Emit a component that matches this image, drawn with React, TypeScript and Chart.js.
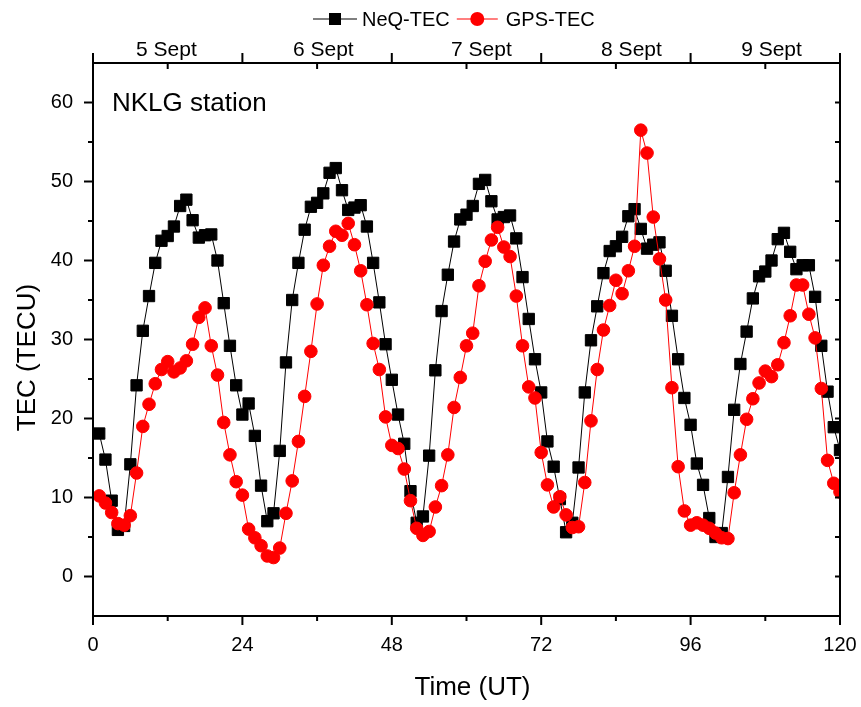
import React, { useEffect, useRef } from 'react';
import { Chart, registerables } from 'chart.js';

Chart.register(...registerables);

// ---- data (hourly values, hour 1 .. 120) ----
const neqTec = [
  18.1, 14.8, 9.6, 5.9, 6.4, 14.2, 24.2, 31.1, 35.5, 39.7,
  42.5, 43.1, 44.3, 46.9, 47.7, 45.1, 42.9, 43.2, 43.3, 40.0,
  34.6, 29.2, 24.2, 20.5, 21.9, 17.8, 11.5, 7.0, 8.0, 15.9,
  27.1, 35.0, 39.7, 43.9, 46.8, 47.3, 48.5, 51.1, 51.7, 48.9,
  46.4, 46.7, 47.0, 44.3, 39.7, 34.7, 29.4, 24.9, 20.5, 16.8,
  10.8, 6.8, 7.6, 15.3, 26.1, 33.6, 38.2, 42.4, 45.2, 45.8,
  46.9, 49.7, 50.2, 47.5, 45.2, 45.5, 45.7, 42.8, 37.9, 32.6,
  27.5, 23.3, 17.1, 13.9, 9.8, 5.6, 6.8, 13.8, 23.3, 29.9,
  34.2, 38.4, 41.2, 41.8, 43.0, 45.6, 46.5, 44.0, 41.5, 42.0,
  42.3, 38.7, 33.0, 27.5, 22.6, 19.2, 14.3, 11.6, 7.4, 5.0,
  5.5, 12.6, 21.1, 26.9, 31.0, 35.2, 38.0, 38.6, 40.0, 42.7,
  43.5, 41.1, 38.9, 39.4, 39.4, 35.4, 29.2, 23.4, 18.9, 16.0,
];

const gpsTec = [
  10.2, 9.3, 8.1, 6.7, 6.5, 7.7, 13.1, 19.0, 21.8, 24.4,
  26.2, 27.2, 25.9, 26.4, 27.3, 29.4, 32.8, 34.0, 29.2, 25.5,
  19.5, 15.4, 12.0, 10.3, 6.0, 4.9, 3.9, 2.6, 2.4, 3.6,
  8.0, 12.1, 17.1, 22.8, 28.5, 34.5, 39.4, 41.8, 43.7, 43.2,
  44.7, 42.0, 38.7, 34.4, 29.5, 26.2, 20.2, 16.6, 16.2, 13.6,
  9.6, 6.1, 5.2, 5.7, 8.8, 11.5, 15.4, 21.4, 25.2, 29.2,
  30.8, 36.8, 39.9, 42.6, 44.2, 41.7, 40.5, 35.5, 29.2, 24.0,
  22.6, 15.7, 11.6, 8.8, 10.1, 7.8, 6.2, 6.3, 11.9, 19.7,
  26.2, 31.2, 34.3, 37.5, 35.8, 38.7, 41.8, 56.5, 53.6, 45.5,
  40.2, 35.0, 23.9, 13.9, 8.3, 6.5, 6.8, 6.5, 6.1, 5.5,
  4.9, 4.8, 10.6, 15.4, 19.9, 22.5, 24.5, 26.0, 25.3, 26.8,
  29.6, 33.0, 36.9, 36.9, 33.2, 30.2, 23.8, 14.7, 11.8, 10.7,
];

const seriesNames = ['NeQ-TEC', 'GPS-TEC'];
const xTickValues = [0, 24, 48, 72, 96, 120];
const xMinorValues = [12, 36, 60, 84, 108];
const yTickValues = [0, 10, 20, 30, 40, 50, 60];
const yMinorValues = [5, 15, 25, 35, 45, 55];
const dayTickValues = [12, 36, 60, 84, 108];
const dayLabelHours = [11.8, 37, 62.4, 86.5, 109];
const dayLabels = ['5 Sept', '6 Sept', '7 Sept', '8 Sept', '9 Sept'];
const stationLabel = 'NKLG station';
const xTitle = 'Time (UT)';
const yTitle = 'TEC (TECU)';

const FONT = '"Liberation Sans", Arial, Helvetica, sans-serif';

const toPoints = (arr: number[]) => arr.map((v, i) => ({ x: i + 1, y: v }));

const overlayPlugin = {
  id: 'overlay',
  afterDraw(chart: any) {
    const { ctx, chartArea: ca, scales } = chart;
    const x = scales.x;
    const y = scales.y;
    ctx.save();
    ctx.strokeStyle = '#000';
    ctx.fillStyle = '#000';

    const seg = (x1: number, y1: number, x2: number, y2: number, w: number) => {
      ctx.lineWidth = w;
      ctx.beginPath();
      ctx.moveTo(x1, y1);
      ctx.lineTo(x2, y2);
      ctx.stroke();
    };

    // frame
    ctx.lineWidth = 2;
    ctx.strokeRect(ca.left, ca.top, ca.right - ca.left, ca.bottom - ca.top);

    // left ticks (outward)
    yTickValues.forEach((v) => {
      const p = y.getPixelForValue(v);
      seg(ca.left - 9, p, ca.left, p, 2);
    });
    yMinorValues.forEach((v) => {
      const p = y.getPixelForValue(v);
      seg(ca.left - 5, p, ca.left, p, 2);
    });
    // right ticks (inward)
    [...yTickValues, ...yMinorValues].forEach((v) => {
      const p = y.getPixelForValue(v);
      seg(ca.right - 5, p, ca.right, p, 2);
    });
    // bottom ticks (outward)
    xTickValues.forEach((v) => {
      const p = x.getPixelForValue(v);
      seg(p, ca.bottom, p, ca.bottom + 9, 2);
    });
    xMinorValues.forEach((v) => {
      const p = x.getPixelForValue(v);
      seg(p, ca.bottom, p, ca.bottom + 5, 2);
    });
    // top ticks: day boundaries outward, day centres inward
    xTickValues.forEach((v) => {
      const p = x.getPixelForValue(v);
      seg(p, ca.top, p, ca.top - 10, 2);
    });
    dayTickValues.forEach((v) => {
      const p = x.getPixelForValue(v);
      seg(p, ca.top, p, ca.top + 6, 2);
    });

    // day labels on the top axis
    ctx.font = `21px ${FONT}`;
    ctx.textAlign = 'center';
    ctx.textBaseline = 'alphabetic';
    dayLabels.forEach((t, i) => {
      ctx.fillText(t, x.getPixelForValue(dayLabelHours[i]), ca.top - 7);
    });

    // station label
    ctx.font = `26px ${FONT}`;
    ctx.textAlign = 'left';
    ctx.textBaseline = 'alphabetic';
    ctx.fillText(stationLabel, ca.left + 19, y.getPixelForValue(60) + 8);

    // axis titles
    ctx.textAlign = 'center';
    ctx.textBaseline = 'middle';
    ctx.fillText(xTitle, (ca.left + ca.right) / 2 + 6, 688);
    ctx.save();
    ctx.translate(28, (ca.top + ca.bottom) / 2 + 18);
    ctx.rotate(-Math.PI / 2);
    ctx.fillText(yTitle, 0, 0);
    ctx.restore();

    // legend
    const ly = 19;
    ctx.font = `20px ${FONT}`;
    ctx.textAlign = 'left';
    ctx.textBaseline = 'middle';
    let lx = 313;
    ctx.strokeStyle = '#000';
    seg(lx, ly, lx + 44, ly, 1.2);
    ctx.fillStyle = '#000';
    ctx.fillRect(lx + 22 - 6, ly - 6, 12, 12);
    lx += 49;
    ctx.fillText(seriesNames[0], lx, ly + 1);
    lx += ctx.measureText(seriesNames[0]).width + 7;
    ctx.strokeStyle = '#f00';
    seg(lx, ly, lx + 41, ly, 1.2);
    ctx.fillStyle = '#f00';
    ctx.beginPath();
    ctx.arc(lx + 20.5, ly, 7, 0, Math.PI * 2);
    ctx.fill();
    lx += 49;
    ctx.fillStyle = '#000';
    ctx.fillText(seriesNames[1], lx, ly + 1);

    ctx.restore();
  },
};

export default function App() {
  const canvasRef = useRef<HTMLCanvasElement | null>(null);

  useEffect(() => {
    const canvas = canvasRef.current;
    if (!canvas) return;
    const tickFont = { family: FONT, size: 20 };
    const chart = new Chart(canvas, {
      type: 'line',
      data: {
        datasets: [
          {
            label: seriesNames[0],
            data: toPoints(neqTec),
            borderColor: '#000',
            backgroundColor: '#000',
            borderWidth: 1,
            pointStyle: 'rect',
            pointRadius: 8,
            pointBorderWidth: 1,
            pointBorderColor: '#000',
            pointBackgroundColor: '#000',
            tension: 0,
            order: 2,
            clip: 0,
            xAxisID: 'x',
            yAxisID: 'y',
          },
          {
            label: seriesNames[1],
            data: toPoints(gpsTec),
            borderColor: '#f00',
            backgroundColor: '#f00',
            borderWidth: 1,
            pointStyle: 'circle',
            pointRadius: 6.3,
            pointBorderWidth: 1,
            pointBorderColor: '#f00',
            pointBackgroundColor: '#f00',
            tension: 0,
            order: 1,
            clip: 0,
            xAxisID: 'x',
            yAxisID: 'y',
          },
        ],
      },
      options: {
        responsive: false,
        animation: false,
        events: [],
        layout: { padding: 0 },
        plugins: {
          legend: { display: false },
          tooltip: { enabled: false },
          title: { display: false },
        },
        scales: {
          x: {
            type: 'linear',
            position: 'bottom',
            min: 0,
            max: 120,
            afterBuildTicks: (s: any) => {
              s.ticks = xTickValues.map((v) => ({ value: v }));
            },
            ticks: {
              font: tickFont,
              color: '#000',
              padding: 17,
              autoSkip: false,
              maxRotation: 0,
            },
            grid: { display: false, drawTicks: false },
            border: { display: false },
            afterFit: (s: any) => {
              s.height = 91;
              s.paddingLeft = 0;
              s.paddingRight = 0;
            },
          },
          xTop: {
            type: 'linear',
            position: 'top',
            min: 0,
            max: 120,
            ticks: { display: false },
            grid: { display: false, drawTicks: false },
            border: { display: false },
            afterFit: (s: any) => {
              s.height = 63;
              s.paddingLeft = 0;
              s.paddingRight = 0;
            },
          },
          y: {
            type: 'linear',
            position: 'left',
            min: -5,
            max: 65,
            afterBuildTicks: (s: any) => {
              s.ticks = yTickValues.map((v) => ({ value: v }));
            },
            ticks: {
              font: tickFont,
              color: '#000',
              padding: 20,
              autoSkip: false,
            },
            grid: { display: false, drawTicks: false },
            border: { display: false },
            afterFit: (s: any) => {
              s.width = 93;
              s.paddingTop = 0;
              s.paddingBottom = 0;
            },
          },
          yRight: {
            type: 'linear',
            position: 'right',
            min: -5,
            max: 65,
            ticks: { display: false },
            grid: { display: false, drawTicks: false },
            border: { display: false },
            afterFit: (s: any) => {
              s.width = 21;
              s.paddingTop = 0;
              s.paddingBottom = 0;
            },
          },
        },
      },
      plugins: [overlayPlugin],
    } as any);
    return () => chart.destroy();
  }, []);

  return (
    <div style={{ position: 'fixed', left: 0, top: 0, width: 861, height: 707, background: '#fff' }}>
      <canvas ref={canvasRef} width={861} height={707} style={{ display: 'block' }} />
    </div>
  );
}
